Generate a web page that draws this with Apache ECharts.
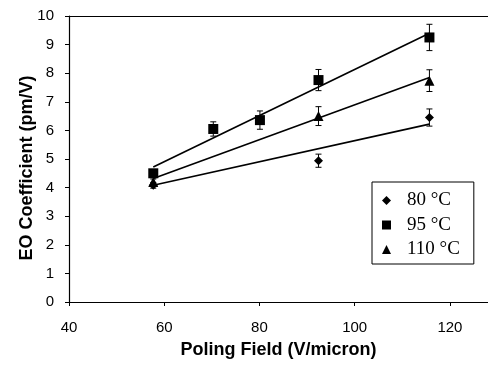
<!DOCTYPE html>
<html>
<head>
<meta charset="utf-8">
<script src="https://cdn.jsdelivr.net/npm/echarts@6/dist/echarts.min.js"></script>
<style>
  html, body { margin: 0; padding: 0; background: #fff; }
  #chart { width: 488px; height: 367px; }
</style>
</head>
<body>
<div id="chart"></div>
<script>
// measured EO coefficients (pm/V) at each poling field (V/micron), plus error bar half widths
var eo80 = [[57.7, 4.08], [92.4, 4.94], [115.7, 6.45]];
var err80 = [0.1, 0.23, 0.3];
var eo95 = [[57.7, 4.5], [70.3, 6.05], [80.1, 6.36], [92.4, 7.76], [115.7, 9.25]];
var err95 = [0.12, 0.25, 0.32, 0.37, 0.46];
var eo110 = [[57.7, 4.2], [92.4, 6.5], [115.7, 7.74]];
var err110 = [0.1, 0.33, 0.38];

// linear fit end points
var fit80 = [[57.7, 4.08], [115.7, 6.22]];
var fit95 = [[57.7, 4.72], [115.7, 9.4]];
var fit110 = [[57.7, 4.32], [115.7, 7.85]];

var xTicks = [40, 60, 80, 100, 120];
var names = ['80 °C', '95 °C', '110 °C'];

var chartDom = document.getElementById('chart');
var myChart = echarts.init(chartDom);

function errBars(pts, errs) {
  return pts.map(function (p, i) { return [p[0], p[1] - errs[i], p[1] + errs[i]]; });
}

function errSeries(pts, errs) {
  return {
    type: 'custom',
    silent: true,
    z: 1,
    data: errBars(pts, errs),
    renderItem: function (params, api) {
      var lo = api.coord([api.value(0), api.value(1)]);
      var hi = api.coord([api.value(0), api.value(2)]);
      var w = 3;
      var st = { stroke: '#000', lineWidth: 1 };
      return {
        type: 'group',
        children: [
          { type: 'line', shape: { x1: lo[0], y1: lo[1], x2: hi[0], y2: hi[1] }, style: st },
          { type: 'line', shape: { x1: lo[0] - w, y1: lo[1], x2: lo[0] + w, y2: lo[1] }, style: st },
          { type: 'line', shape: { x1: hi[0] - w, y1: hi[1], x2: hi[0] + w, y2: hi[1] }, style: st }
        ]
      };
    }
  };
}

function fitSeries(pts) {
  return {
    type: 'line',
    data: pts,
    showSymbol: false,
    silent: true,
    lineStyle: { color: '#000', width: 1.6 },
    z: 2
  };
}

var axisFont = { fontFamily: 'Liberation Sans', fontSize: 15, color: '#000' };
var titleFont = { fontFamily: 'Liberation Sans', fontSize: 18, fontWeight: 'bold', color: '#000' };

var option = {
  animation: false,
  grid: { left: 69, right: 0, top: 16, bottom: 65 },
  // y axis title sits a little below the axis middle in the original
  graphic: [{
    type: 'text',
    x: 27,
    y: 168,
    rotation: Math.PI / 2,
    style: {
      text: 'EO Coefficient (pm/V)',
      align: 'center',
      verticalAlign: 'middle',
      font: 'bold 18px "Liberation Sans"',
      fill: '#000'
    }
  }],
  legend: {
    data: names,
    orient: 'vertical',
    left: 372,
    top: 182,
    padding: [9, 14, 5, 10],
    itemGap: 5.5,
    itemWidth: 9,
    itemHeight: 9,
    borderColor: '#000',
    borderWidth: 1,
    textStyle: { fontFamily: 'Liberation Serif', fontSize: 19, lineHeight: 19, color: '#000', padding: [0, 0, 0, 11] }
  },
  xAxis: [
    {
      type: 'value',
      min: 40,
      max: 128,
      interval: 20,
      name: 'Poling Field (V/micron)',
      nameLocation: 'middle',
      nameGap: 39,
      nameTextStyle: titleFont,
      axisLine: { lineStyle: { color: '#000', width: 1.2 } },
      axisTick: { length: 4, lineStyle: { color: '#000' }, customValues: xTicks },
      axisLabel: { customValues: xTicks, margin: 18, ...axisFont },
      splitLine: { show: false }
    },
    {
      type: 'value',
      position: 'top',
      min: 40,
      max: 128,
      axisLine: { show: true, lineStyle: { color: '#000', width: 1.2 } },
      axisTick: { show: false },
      axisLabel: { show: false },
      splitLine: { show: false }
    }
  ],
  yAxis: {
    type: 'value',
    min: 0,
    max: 10,
    interval: 1,
    axisLine: { show: true, lineStyle: { color: '#000', width: 1.2 } },
    axisTick: { show: true, length: 4, lineStyle: { color: '#000' } },
    axisLabel: { margin: 15, ...axisFont },
    splitLine: { show: false }
  },
  series: [
    errSeries(eo80, err80),
    errSeries(eo95, err95),
    errSeries(eo110, err110),
    fitSeries(fit80),
    fitSeries(fit95),
    fitSeries(fit110),
    { name: names[0], type: 'scatter', data: eo80, symbol: 'diamond', symbolSize: 9, itemStyle: { color: '#000', opacity: 1 }, z: 3 },
    { name: names[1], type: 'scatter', data: eo95, symbol: 'rect', symbolSize: 10, itemStyle: { color: '#000', opacity: 1 }, z: 3 },
    { name: names[2], type: 'scatter', data: eo110, symbol: 'triangle', symbolSize: 10, itemStyle: { color: '#000', opacity: 1 }, z: 3 }
  ]
};

option && myChart.setOption(option);
</script>
</body>
</html>
